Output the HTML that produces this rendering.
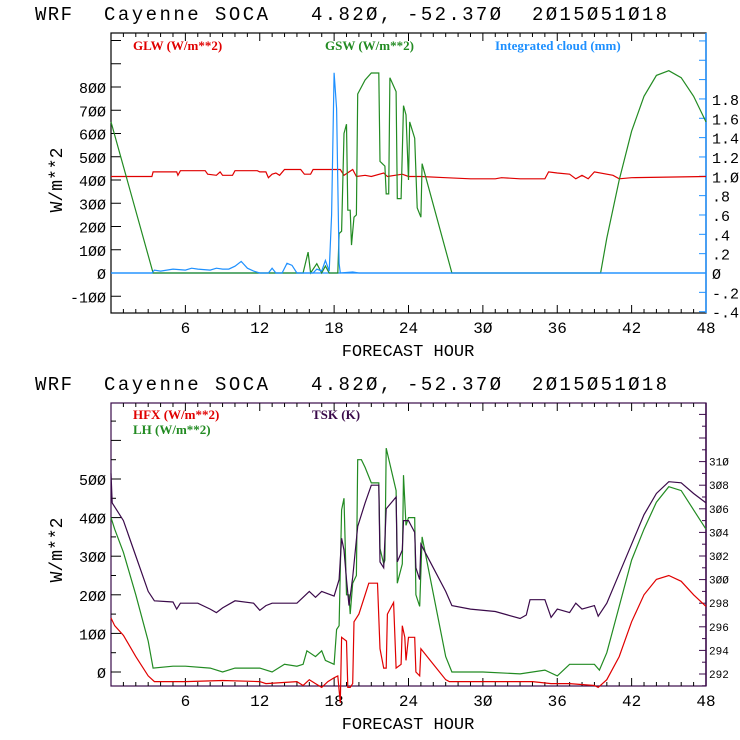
<!DOCTYPE html>
<html><head><meta charset="utf-8"><style>
body{margin:0;background:#fff}
svg{display:block}
text{font-family:"Liberation Mono",monospace}
.lg{font-family:"Liberation Serif",serif;font-weight:bold;font-size:13px}
</style></head><body>
<svg id="c" width="740" height="740" viewBox="0 0 740 740" xmlns="http://www.w3.org/2000/svg"></svg>
<script>
const hourTicks=[6,12,18,24,30,36,42,48];
const glw=[[0,415],[3.3,415],[3.4,435],[5.3,435],[5.4,420],[5.6,440],[7.6,440],[7.8,425],[8.5,420],[8.8,435],[9,420],[9.8,420],[10,440],[11.8,440],[12,435],[12.5,435],[12.7,410],[13,425],[13.3,430],[13.6,420],[14,445],[15.3,445],[15.6,425],[16.1,425],[16.3,445],[18.5,445],[18.8,420],[19.5,445],[19.8,415],[20.5,420],[21,415],[22,430],[22.3,415],[23.5,425],[24,415],[25,415],[27,410],[29,405],[31,405],[31.5,410],[33,405],[35,405],[35.3,435],[36,430],[37,425],[37.5,405],[38,420],[38.5,405],[39,435],[40.5,420],[41,405],[42,410],[48,415]];
const gsw=[[0,650],[3.4,0],[15.5,0],[15.9,90],[16.1,0],[16.6,40],[17,0],[17.3,30],[17.6,0],[18.3,0],[18.4,170],[18.6,180],[18.8,600],[19,640],[19.1,270],[19.3,270],[19.4,120],[19.6,240],[19.8,250],[19.9,770],[20.5,830],[21,860],[21.6,860],[21.7,480],[22.1,460],[22.2,340],[22.4,340],[22.5,840],[23,780],[23.1,320],[23.4,320],[23.6,720],[23.8,680],[24,400],[24.1,650],[24.5,580],[24.7,280],[25,240],[25.1,470],[27.5,0],[39.5,0],[40,150],[41,400],[42,610],[43,760],[44,850],[45,870],[46,840],[47,760],[48,650]];
const cloud=[[0,0],[3.3,0],[3.5,0.03],[4,0.02],[5,0.04],[6,0.03],[6.5,0.05],[7,0.04],[8,0.03],[8.5,0.05],[9,0.04],[9.5,0.04],[10,0.07],[10.5,0.12],[11,0.05],[11.5,0.02],[12,0],[12.7,0],[13,0.05],[13.3,0],[13.8,0],[14.2,0.1],[14.6,0.08],[15,0],[16.3,0],[16.6,0.04],[17,0.02],[17.3,0.13],[17.6,0.02],[17.8,0.6],[18,2.07],[18.2,1.7],[18.4,0.1],[18.5,0],[19.5,0.01],[20,0],[48,0]];
const hfx=[[0,140],[0.3,120],[1,95],[2,40],[3,-10],[3.5,-25],[6,-25],[9,-22],[12,-25],[12.5,-30],[15,-25],[15.5,-35],[16,-20],[16.5,-30],[17,-40],[17.5,-25],[18,-15],[18.3,-10],[18.5,-80],[18.6,90],[19,80],[19.1,-40],[19.3,-40],[19.5,-30],[19.6,130],[20,150],[20.5,200],[20.8,230],[21.5,230],[21.7,60],[22,10],[22.2,10],[22.3,150],[22.8,180],[23,10],[23.4,20],[23.5,120],[23.7,90],[23.8,30],[24,90],[24.5,90],[24.6,0],[24.9,-10],[25,60],[26,20],[27,-20],[27.3,-25],[32,-25],[34,-25],[35.5,-30],[37,-30],[39,-35],[39.3,-40],[40,-20],[41,40],[42,130],[43,200],[44,240],[45,250],[46,235],[47,200],[48,170]];
const lh=[[0,400],[0.3,370],[1,310],[2,200],[3,80],[3.4,10],[5,15],[6,15],[8,10],[9,0],[10,10],[12,10],[13,0],[14,20],[15,15],[15.5,20],[15.8,55],[16.5,40],[17,55],[17.3,30],[18,20],[18.2,110],[18.4,120],[18.6,420],[18.8,450],[19,200],[19.2,200],[19.3,150],[19.5,230],[19.8,250],[19.9,550],[20.2,550],[20.5,530],[21,490],[21.6,490],[21.7,320],[22,280],[22.1,290],[22.2,580],[23,470],[23.1,230],[23.5,280],[23.6,510],[23.8,380],[24,400],[24.5,400],[24.6,200],[24.9,170],[25.1,350],[27,40],[27.5,0],[30,0],[33,-5],[35,5],[36,-10],[37,20],[39,20],[39.4,5],[40,50],[41,170],[42,290],[43,370],[44,440],[45,480],[46,470],[47,420],[48,370]];
const tsk=[[0,309],[0.1,306.5],[1,305],[2,302],[3,299],[3.5,298.2],[5,298.1],[5.3,297.5],[5.6,298],[7,298],[8,297.5],[8.5,297.2],[9,297.6],[10,298.2],[11.5,298],[12,297.4],[12.5,297.8],[13,298],[15,298],[15.5,298.5],[16,299],[16.5,298.5],[17,299],[18,298.6],[18.4,300],[18.6,303.5],[18.8,302.5],[19,300],[19.2,297.8],[19.5,300.2],[19.9,304.5],[20.5,306.5],[21,308],[21.6,308],[21.7,301.5],[22,301],[22.2,306],[23,307],[23.1,301.5],[23.5,302.5],[23.6,305],[24,305],[24.5,304],[24.6,301],[24.9,300],[25,303],[26,301],[27,299],[27.5,297.8],[29,297.5],[31,297.3],[32,297],[33,296.7],[33.5,297],[33.8,298.3],[35,298.3],[35.5,296.8],[36,297.5],[37,297.2],[37.5,298],[38,297.5],[39,297.8],[39.3,296.9],[40,298],[41,300.5],[42,303],[43,305.5],[44,307.3],[45,308.3],[46,308.2],[47,307.3],[48,306.5]];
const topLeftTicks=[-100,0,100,200,300,400,500,600,700,800];
const topRightTicks=[-0.4,-0.2,0,0.2,0.4,0.6,0.8,1.0,1.2,1.4,1.6,1.8];
const topRightLabels=["-.4","-.2","0",".2",".4",".6",".8","1.0","1.2","1.4","1.6","1.8"];
const botLeftTicks=[0,100,200,300,400,500];
const botRightTicks=[292,294,296,298,300,302,304,306,308,310];

const S=document.getElementById('c');const NS='http://www.w3.org/2000/svg';
function el(t,a,p){const e=document.createElementNS(NS,t);for(const k in a)e.setAttribute(k,a[k]);(p||S).appendChild(e);return e;}
const X0=111,X1=706;
const xs=h=>X0+(X1-X0)*h/48;
function txt(x,y,s,a,name){const t=el('text',Object.assign({x:x,y:y},a));t.textContent=s;


return t;}
function series(d,ys,col,name){const p=el('polyline',{points:d.map(q=>xs(q[0]).toFixed(1)+','+ys(q[1]).toFixed(1)).join(' '),fill:'none',stroke:col,'stroke-width':1.2});

}
function panel(top,bot,boxCol,rightCol,name){
 const ty0=top-13;
 txt(35,ty0,'WRF',{'font-size':19,fill:'#000',textLength:37},'chart-title');
 txt(104,ty0,'Cayenne SOCA',{'font-size':19,fill:'#000',textLength:164},'chart-title-station');
 txt(311,ty0,'4.82Ø, -52.37Ø',{'font-size':19,fill:'#000',textLength:190},'chart-title-coords');
 txt(532,ty0,'2Ø15Ø51Ø18',{'font-size':19,fill:'#000',textLength:135},'chart-title-date');
 el('rect',{x:X0,y:top,width:X1-X0,height:bot-top,fill:'none',stroke:boxCol,'stroke-width':1.2});
 el('line',{x1:X1,y1:top,x2:X1,y2:bot,stroke:rightCol,'stroke-width':1.5});
 for(let h=1;h<48;h++){const x=xs(h),L=h%6==0?8:4;el('line',{x1:x,y1:bot,x2:x,y2:bot-L,stroke:'#000'});el('line',{x1:x,y1:top,x2:x,y2:top+L,stroke:'#000'});}
 hourTicks.forEach(h=>txt(xs(h),bot+20,String(h).replace(/0/g,'Ø'),{'font-size':16,'text-anchor':'middle',fill:'#000'},'x-tick-label'));
 txt(408,bot+43,'FORECAST HOUR',{'font-size':17,'text-anchor':'middle',fill:'#000'},'x-axis-title');
}
// top
panel(33,313,'#000','#1e90ff','top-panel');
const ty=v=>273-v*0.2325, tr=v=>273-v*96.7;
for(let v=-100;v<=1000;v+=100){el('line',{x1:X0,y1:ty(v),x2:X0+10,y2:ty(v),stroke:'#000'});}
topLeftTicks.forEach(v=>txt(106,ty(v)+6,String(v).replace(/0/g,'Ø'),{'font-size':15,'text-anchor':'end',fill:'#000'},'y-tick-label'));
for(let i=-2;i<=12;i++){const v=i*0.2;el('line',{x1:X1,y1:tr(v),x2:X1-7,y2:tr(v),stroke:'#1e90ff'});}
topRightTicks.forEach((v,i)=>txt(712,tr(v)+6,topRightLabels[i].replace(/0/g,'Ø'),{'font-size':15,fill:'#000'},'y2-tick-label'));
txt(62,180,'W/m**2',{'font-size':18,'text-anchor':'middle',fill:'#000',transform:'rotate(-90 62 180)'},'y-axis-title');
el('line',{x1:X0,y1:ty(0),x2:X1,y2:ty(0),stroke:'#1e90ff','stroke-width':1.2});
series(glw,ty,'#e00000','glw-line');
series(gsw,ty,'#228b22','gsw-line');
series(cloud,tr,'#1e90ff','cloud-line');
txt(133,50,'GLW (W/m**2)',{class:'lg',fill:'#e00000'},'legend-glw');
txt(325,50,'GSW (W/m**2)',{class:'lg',fill:'#228b22'},'legend-gsw');
txt(495,50,'Integrated cloud (mm)',{class:'lg',fill:'#1e90ff'},'legend-cloud');
// bottom
panel(403,686,'#3a0a4a','#3a0a4a','bottom-panel');
const by=v=>672-v*0.386, br=v=>674-(v-292)*11.8;
for(let v=0;v<=650;v+=100){el('line',{x1:X0,y1:by(v),x2:X0+10,y2:by(v),stroke:'#000'});}
for(let v=50;v<=650;v+=100){el('line',{x1:X0,y1:by(v),x2:X0+5,y2:by(v),stroke:'#000'});}
botLeftTicks.forEach(v=>txt(106,by(v)+6,String(v).replace(/0/g,'Ø'),{'font-size':15,'text-anchor':'end',fill:'#000'},'y-tick-label'));
for(let v=291;v<=314;v+=1){el('line',{x1:X1,y1:br(v),x2:X1-(v%2?4:7),y2:br(v),stroke:'#3a0a4a'});}
botRightTicks.forEach(v=>txt(709,br(v)+4,String(v).replace(/0/g,'Ø'),{'font-size':11,fill:'#000'},'y2-tick-label'));
txt(62,550,'W/m**2',{'font-size':18,'text-anchor':'middle',fill:'#000',transform:'rotate(-90 62 550)'},'y-axis-title');
series(lh,by,'#228b22','lh-line');
series(hfx,by,'#e00000','hfx-line');
series(tsk,br,'#3a0a4a','tsk-line');
txt(133,419,'HFX (W/m**2)',{class:'lg',fill:'#e00000'},'legend-hfx');
txt(133,434,'LH  (W/m**2)',{class:'lg',fill:'#228b22'},'legend-lh');
txt(312,419,'TSK (K)',{class:'lg',fill:'#3a0a4a'},'legend-tsk');
</script>
</body></html>
